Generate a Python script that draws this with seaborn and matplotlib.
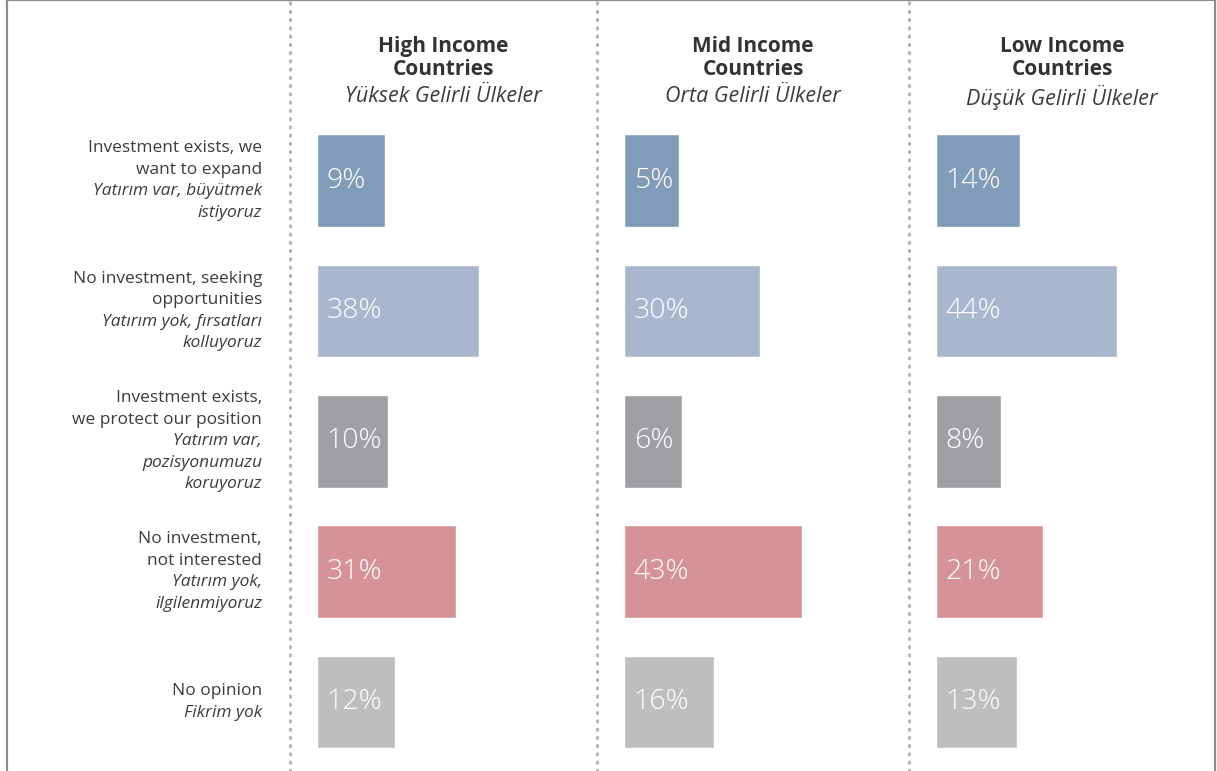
import matplotlib.pyplot as plt
import seaborn as sns
import pandas as pd

# survey answers (english / turkish)
answers_en = [
    "Investment exists, we\nwant to expand",
    "No investment, seeking\nopportunities",
    "Investment exists,\nwe protect our position",
    "No investment,\nnot interested",
    "No opinion",
]
answers_tr = [
    "Yatırım var, büyütmek\nistiyoruz",
    "Yatırım yok, fırsatları\nkolluyoruz",
    "Yatırım var,\npozisyonumuzu\nkoruyoruz",
    "Yatırım yok,\nilgilenmiyoruz",
    "Fikrim yok",
]
groups_en = ["High Income\nCountries", "Mid Income\nCountries", "Low Income\nCountries"]
groups_tr = ["Yüksek Gelirli Ülkeler", "Orta Gelirli Ülkeler", "Düşük Gelirli Ülkeler"]

high_income = [9, 38, 10, 31, 12]
mid_income = [5, 30, 6, 43, 16]
low_income = [14, 44, 8, 21, 13]

colors = ["#819cb8", "#a8b7cd", "#a0a0a4", "#d59397", "#bdbec0"]

sns.set_style("white")
plt.rcParams["font.family"] = ["Open Sans", "DejaVu Sans"]

W, H = 1217, 771
frame_left, seps, frame_right = 7, [290, 597, 909], 1215
bar_offset = 27      # px between separator and bar start
px_per_pct = 3.23    # bar scale
pad = 12             # minimum bar length, in % units
row_px, first_row = 130.4, 180.5
ylim = (4.5 + (H - (first_row + 4.5 * row_px)) / row_px, -0.5 - (first_row - 0.5 * row_px) / row_px)

fig = plt.figure(figsize=(W / 100, H / 100), dpi=100)
frame_col = "#8c8c8c"
dot_col = "#b4b4b4"

# label column
ax0 = fig.add_axes([frame_left / W, 0, (seps[0] - frame_left) / W, 1])
ax0.set_ylim(ylim)
ax0.set_xticks([])
ax0.set_yticks([])
for s in ["right", "bottom"]:
    ax0.spines[s].set_visible(False)
for s in ["left", "top"]:
    ax0.spines[s].set_color(frame_col)
    ax0.spines[s].set_linewidth(1.6)

line_pt = 15.5
label_x = (262 - frame_left) / (seps[0] - frame_left)
for i, (en, tr) in enumerate(zip(answers_en, answers_tr)):
    lines = [(t, "normal") for t in en.split("\n")] + [(t, "italic") for t in tr.split("\n")]
    n = len(lines)
    for j, (t, style) in enumerate(lines):
        off = ((n - 1) / 2 - j) * line_pt
        ax0.annotate(t, xy=(label_x, i), xycoords=("axes fraction", "data"),
                     xytext=(0, off), textcoords="offset points",
                     ha="right", va="center", fontsize=12.5, style=style,
                     color="#3c3c3c")

edges = seps + [frame_right]
for k, vals in enumerate([high_income, mid_income, low_income]):
    left, right = edges[k], edges[k + 1]
    ax = fig.add_axes([left / W, 0, (right - left) / W, 1])
    df = pd.DataFrame({"answer": answers_en, "pct": vals})
    df["length"] = df["pct"] + pad
    sns.barplot(data=df, x="length", y="answer", hue="answer", palette=colors,
                order=answers_en, hue_order=answers_en, legend=False,
                orient="h", width=0.71, saturation=1, ax=ax)
    ax.set_xlim(-bar_offset / px_per_pct, (right - left - bar_offset) / px_per_pct)
    ax.set_ylim(ylim)
    ax.set_xticks([])
    ax.set_yticks([])
    ax.set_xlabel("")
    ax.set_ylabel("")
    ax.spines["bottom"].set_visible(False)
    ax.spines["top"].set_color(frame_col)
    ax.spines["top"].set_linewidth(1.6)
    ax.spines["left"].set_color(dot_col)
    ax.spines["left"].set_linewidth(2.2)
    ax.spines["left"].set_linestyle((0, (0.4, 2.3)))
    ax.spines["left"].set_capstyle("round")
    if k == 2:
        ax.spines["right"].set_color(frame_col)
        ax.spines["right"].set_linewidth(1.6)
    else:
        ax.spines["right"].set_visible(False)

    for i, v in enumerate(vals):
        ax.annotate(f"{v}%", xy=(0, i), xytext=(7, 0), textcoords="offset points",
                    ha="left", va="center", fontsize=20.5, color="white",
                    fontweight="light")

    ax.text(0.5, 1 - 58 / H, groups_en[k], transform=ax.transAxes, ha="center",
            va="center", fontsize=15, fontweight="bold", color="#333333",
            linespacing=1.12)
    ax.text(0.5, 1 - 97 / H, groups_tr[k], transform=ax.transAxes, ha="center",
            va="center", fontsize=15.5, style="italic", color="#3c3c3c")

plt.savefig("out.png", dpi=100)
